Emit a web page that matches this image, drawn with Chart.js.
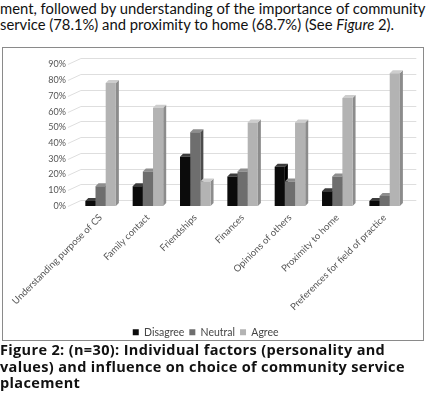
<!DOCTYPE html>
<html>
<head>
<meta charset="utf-8">
<script src="https://cdn.jsdelivr.net/npm/chart.js@4.4.0/dist/chart.umd.min.js"></script>
<style>
    html, body { margin: 0; padding: 0; background: #fff; }
    body { width: 427px; height: 399px; position: relative; overflow: hidden; font-family: Lato, "Open Sans", sans-serif; color: #111; }
    .intro { position: absolute; left: 0; top: 0; font-size: 14.8px; line-height: 16px; white-space: nowrap; }
    .box { position: absolute; left: 2px; top: 47px; width: 422px; height: 294px; border: 1px solid #8a8a8a; box-sizing: border-box; }
    .wrap { position: absolute; left: 3px; top: 48px; width: 420px; height: 300px; }
    .caption { position: absolute; left: 0; top: 342px; font-family: "Open Sans", Lato, sans-serif; font-size: 14.5px; font-weight: bold; letter-spacing: 0.35px; line-height: 16.5px; white-space: nowrap; background: #fff; width: 427px; }
</style>
</head>
<body>
<div class="intro">ment, followed by understanding of the importance of community<br>service (78.1%) and proximity to home (68.7%) (See <i>Figure</i> 2).</div>
<div class="box"></div>
<div class="wrap"><canvas id="factors-chart"></canvas></div>
<div class="caption">Figure 2: (n=30): Individual factors (personality and<br>values) and influence on choice of community service<br>placement</div>
<script>
(function () {
    "use strict";

    const categories = [
        "Understanding purpose of CS",
        "Family contact",
        "Friendships",
        "Finances",
        "Opinions of others",
        "Proximity to home",
        "Preferences for field of practice",
    ];
    const disagree = [3.1, 12.5, 31.3, 18.8, 25.0, 9.4, 3.1];
    const neutral = [12.5, 21.9, 46.9, 21.9, 15.6, 18.8, 6.3];
    const agree = [78.1, 62.5, 15.6, 53.1, 53.1, 68.7, 84.4];
    const yTicks = [0, 10, 20, 30, 40, 50, 60, 70, 80, 90];

    const fronts = ["#0b0b0b", "#6e6e6e", "#b3b3b3"];
    const tops = ["#3c3c3c", "#8e8e8e", "#cdcdcd"];
    const sides = ["#000000", "#4c4c4c", "#8c8c8c"];
    const DX = 3, DY = -3;

    // back wall gridlines + bar depth faces
    const depthPlugin = {
        id: "depth",
        beforeDatasetsDraw(chart) {
            const { ctx, chartArea, scales } = chart;
            ctx.save();
            ctx.strokeStyle = "#dedede";
            ctx.lineWidth = 1;
            yTicks.forEach((v) => {
                const py = Math.round(scales.y.getPixelForValue(v)) + 0.5;
                ctx.beginPath();
                ctx.moveTo(chartArea.left - 9, py);
                ctx.lineTo(chartArea.left + 4, py - 6);
                ctx.lineTo(chartArea.right + 8, py - 6);
                ctx.stroke();
            });
            chart.data.datasets.forEach((ds, i) => {
                chart.getDatasetMeta(i).data.forEach((bar) => {
                    const { x, y, base, width } = bar.getProps(["x", "y", "base", "width"], true);
                    const l = x - width / 2, r = x + width / 2;
                    ctx.fillStyle = sides[i];
                    ctx.beginPath();
                    ctx.moveTo(r, y);
                    ctx.lineTo(r + DX, y + DY);
                    ctx.lineTo(r + DX, base + DY);
                    ctx.lineTo(r, base);
                    ctx.closePath();
                    ctx.fill();
                    ctx.fillStyle = tops[i];
                    ctx.beginPath();
                    ctx.moveTo(l, y);
                    ctx.lineTo(l + DX, y + DY);
                    ctx.lineTo(r + DX, y + DY);
                    ctx.lineTo(r, y);
                    ctx.closePath();
                    ctx.fill();
                });
            });
            ctx.restore();
        },
    };

    const ctx = document.getElementById("factors-chart").getContext("2d");
    new Chart(ctx, {
        type: "bar",
        data: {
            labels: categories,
            datasets: [
                { label: "Disagree", data: disagree, backgroundColor: fronts[0] },
                { label: "Neutral", data: neutral, backgroundColor: fronts[1] },
                { label: "Agree", data: agree, backgroundColor: fronts[2] },
            ],
        },
        options: {
            responsive: true,
            maintainAspectRatio: false,
            animation: false,
            categoryPercentage: 0.645,
            barPercentage: 1,
            layout: { padding: { left: 0, right: 14.7, top: 12, bottom: 0.5 } },
            plugins: {
                legend: {
                    position: "bottom",
                    labels: {
                        boxWidth: 6,
                        boxHeight: 6,
                        padding: 5,
                        color: "#444",
                        font: { family: "Lato", size: 10.5 },
                    },
                },
                tooltip: { enabled: false },
            },
            scales: {
                x: {
                    grid: { display: false, drawTicks: false },
                    border: { display: false },
                    ticks: {
                        minRotation: 45,
                        maxRotation: 45,
                        padding: 6,
                        color: "#555",
                        font: { family: "Lato", size: 9.5 },
                    },
                    afterFit(scale) {
                        scale.height = scale.chart.height - 158 - scale.chart.legend.height - 0.5;
                    },
                },
                y: {
                    min: 0,
                    max: 90,
                    grid: { display: false, drawTicks: false },
                    border: { display: false },
                    ticks: {
                        stepSize: 10,
                        padding: 11,
                        color: "#555",
                        font: { family: "Lato", size: 9 },
                        callback: (v) => v + "%",
                    },
                    afterFit(scale) {
                        scale.width = 68.5;
                    },
                },
            },
        },
        plugins: [depthPlugin],
    });
})();
</script>
</body>
</html>
